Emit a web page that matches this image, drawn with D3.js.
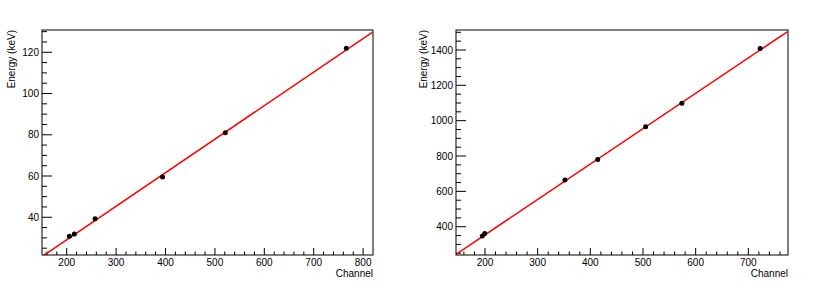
<!DOCTYPE html>
<html>
<head>
<meta charset="utf-8">
<script src="https://cdn.jsdelivr.net/npm/d3@7"></script>
<style>
  body { margin: 0; background: white; }
  svg { display: block; font-family: "Liberation Sans", Arial, sans-serif; }
</style>
</head>
<body>
<script>
// calibration data
const channelsLow = [205.4, 215.5, 257.5, 394, 521, 766];
const energiesLow = [30.8, 31.9, 39.3, 59.5, 81, 121.9];
const fitLow = [0.1627, -3.47]; // slope, intercept

const channelsHigh = [195, 199.5, 351.8, 414, 505, 573.8, 722.4];
const energiesHigh = [347, 361, 664, 781, 966, 1099, 1408];
const fitHigh = [2.002, -46.3];

const xTicksLow = [200, 300, 400, 500, 600, 700, 800];
const yTicksLow = [40, 60, 80, 100, 120];
const xTicksHigh = [200, 300, 400, 500, 600, 700];
const yTicksHigh = [400, 600, 800, 1000, 1200, 1400];

const W = 830, H = 292;
const svg = d3.select("body").append("svg")
  .attr("width", W)
  .attr("height", H);

function panel(opt) {
  const left = opt.left, right = opt.right, top = 30, bottom = 255;
  const g = svg.append("g");
  const x = d3.scaleLinear().domain(opt.xDomain).range([left, right]);
  const y = d3.scaleLinear().domain(opt.yDomain).range([bottom, top]);

  // minor ticks
  const xMinor = d3.range(Math.ceil(opt.xDomain[0] / opt.xMinor) * opt.xMinor, opt.xDomain[1], opt.xMinor);
  const yMinor = d3.range(Math.ceil(opt.yDomain[0] / opt.yMinor) * opt.yMinor, opt.yDomain[1], opt.yMinor);

  g.selectAll(".xminor").data(xMinor).enter().append("line")
    .attr("x1", d => x(d)).attr("x2", d => x(d))
    .attr("y1", bottom).attr("y2", d => opt.xTicks.includes(d) ? bottom - 7 : bottom - 3.5)
    .attr("stroke", "#000").attr("stroke-width", 1);
  g.selectAll(".yminor").data(yMinor).enter().append("line")
    .attr("y1", d => y(d)).attr("y2", d => y(d))
    .attr("x1", left).attr("x2", d => opt.yTicks.includes(d) ? left + 10 : left + 5)
    .attr("stroke", "#000").attr("stroke-width", 1);

  // tick labels
  g.selectAll(".xlab").data(opt.xTicks).enter().append("text")
    .attr("x", d => x(d)).attr("y", 266)
    .attr("text-anchor", "middle").attr("font-size", 10).attr("fill", "#000")
    .text(d => d);
  g.selectAll(".ylab").data(opt.yTicks).enter().append("text")
    .attr("x", left - 3).attr("y", d => y(d) + 3.6)
    .attr("text-anchor", "end").attr("font-size", 10).attr("fill", "#000")
    .text(d => d);

  // axis titles
  g.append("text")
    .attr("x", right).attr("y", 277)
    .attr("text-anchor", "end").attr("font-size", 10)
    .text("Channel");
  g.append("text")
    .attr("transform", "translate(" + (left - opt.titleOff) + "," + top + ") rotate(-90)")
    .attr("text-anchor", "end").attr("font-size", 10)
    .text("Energy (keV)");

  // fit line, clipped to the frame
  const clipId = "clip" + left;
  svg.append("clipPath").attr("id", clipId)
    .append("rect").attr("x", left).attr("y", top)
    .attr("width", right - left).attr("height", bottom - top);
  const fx = [opt.xDomain[0], opt.xDomain[1] - 1.5];
  g.append("path")
    .datum(fx)
    .attr("clip-path", "url(#" + clipId + ")")
    .attr("d", d3.line().x(d => x(d)).y(d => y(opt.fit[0] * d + opt.fit[1])))
    .attr("stroke", "#ff0000").attr("stroke-width", 1.5).attr("fill", "none");

  // points
  g.selectAll(".pt").data(opt.xs).enter().append("circle")
    .attr("cx", d => x(d))
    .attr("cy", (d, i) => y(opt.ys[i]))
    .attr("r", 2.5).attr("fill", "#000");

  // frame
  g.append("rect")
    .attr("x", left).attr("y", top)
    .attr("width", right - left).attr("height", bottom - top)
    .attr("fill", "none").attr("stroke", "#000").attr("stroke-width", 1);
}

panel({
  left: 42, right: 373, titleOff: 27,
  xDomain: [150, 820], yDomain: [21.7, 130.8],
  xTicks: xTicksLow, yTicks: yTicksLow, xMinor: 20, yMinor: 5,
  xs: channelsLow, ys: energiesLow, fit: fitLow
});

panel({
  left: 456, right: 788, titleOff: 29,
  xDomain: [145, 775.3], yDomain: [240, 1513],
  xTicks: xTicksHigh, yTicks: yTicksHigh, xMinor: 20, yMinor: 50,
  xs: channelsHigh, ys: energiesHigh, fit: fitHigh
});
</script>
</body>
</html>
